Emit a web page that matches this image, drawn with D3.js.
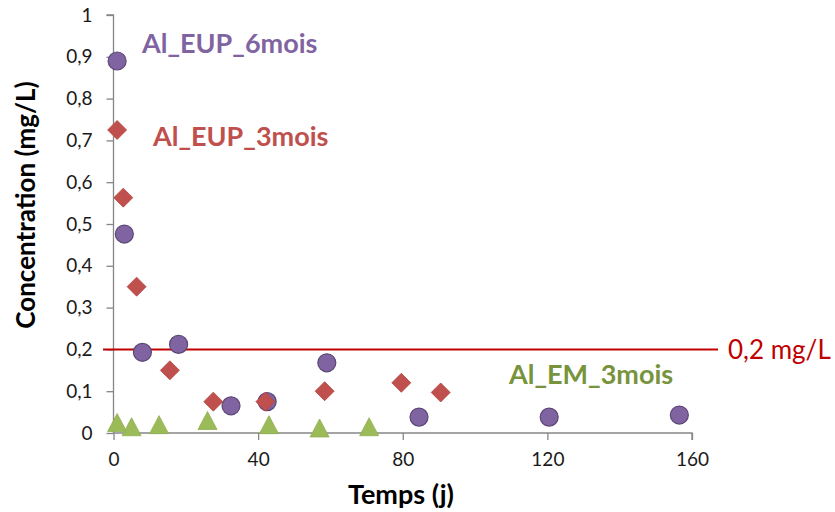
<!DOCTYPE html>
<html>
<head>
<meta charset="utf-8">
<script src="https://cdn.jsdelivr.net/npm/d3@7"></script>
<style>
  html, body { margin: 0; padding: 0; background: #fff; }
  svg { display: block; font-family: Lato, "Open Sans", sans-serif; }
</style>
</head>
<body>
<svg id="chart" width="835" height="512"></svg>
<script>
// ---- data ----
const eup6Days = [1, 3, 8, 18, 32.5, 42.5, 59, 84.5, 120.5, 156.5];
const eup6Conc = [0.89, 0.476, 0.193, 0.212, 0.065, 0.075, 0.168, 0.038, 0.038, 0.043];

const eup3Days = [1, 2.7, 6.4, 15.6, 27.6, 42, 58.4, 79.6, 90.5];
const eup3Conc = [0.725, 0.563, 0.35, 0.15, 0.075, 0.075, 0.1, 0.12, 0.097];

const em3Days = [1, 5, 12.6, 26, 43, 57, 70.7];
const em3Conc = [0.025, 0.015, 0.02, 0.03, 0.02, 0.012, 0.015];

const xTicks = [0, 40, 80, 120, 160];
const yTicks = [0, 0.1, 0.2, 0.3, 0.4, 0.5, 0.6, 0.7, 0.8, 0.9, 1];
const limitValue = 0.2;
const limitLabel = "0,2 mg/L";
const seriesLabels = ["Al_EUP_6mois", "Al_EUP_3mois", "Al_EM_3mois"];
const xTitle = "Temps (j)";
const yTitle = "Concentration (mg/L)";

// ---- layout ----
const svg = d3.select("#chart");
const x = d3.scaleLinear().domain([0, 160]).range([113.5, 692]);
const y = d3.scaleLinear().domain([0, 1]).range([433, 15]);
const axisColor = "#868686";
const fmt = d => d === 0 ? "0" : d === 1 ? "1" : d3.format(".1f")(d).replace(".", ",");

// y axis
const yAxis = svg.append("g")
  .attr("transform", `translate(${x(0)},0)`)
  .call(d3.axisLeft(y).tickValues(yTicks).tickFormat(fmt).tickSize(7).tickPadding(14));
// x axis
const xAxis = svg.append("g")
  .attr("transform", `translate(0,${y(0)})`)
  .call(d3.axisBottom(x).tickValues(xTicks).tickSize(7).tickPadding(13));

[yAxis, xAxis].forEach(g => {
  g.select(".domain").attr("stroke", axisColor).attr("stroke-width", 1.3);
  g.selectAll(".tick line").attr("stroke", axisColor).attr("stroke-width", 1.3);
  g.selectAll(".tick text").attr("fill", "#1a1a1a").style("font-size", "19px").style("font-family", "Lato, sans-serif");
});
yAxis.select(".domain").attr("d", `M-7,${y(1)}H0V${y(0)}`);
xAxis.select(".domain").attr("d", `M${x(0)},0H${x(160)}V7`);

// limit line
svg.append("line")
  .attr("x1", 103).attr("x2", 718)
  .attr("y1", y(limitValue)).attr("y2", y(limitValue))
  .attr("stroke", "#C00000").attr("stroke-width", 2);
svg.append("text")
  .attr("x", 728).attr("y", y(limitValue))
  .attr("dy", "0.35em")
  .attr("fill", "#C00000")
  .style("font-size", "26px")
  .text(limitLabel);

// series: purple circles
svg.append("g").selectAll("circle")
  .data(d3.zip(eup6Days, eup6Conc))
  .join("circle")
  .attr("cx", d => x(d[0])).attr("cy", d => y(d[1]))
  .attr("r", 9)
  .attr("fill", "#8064A2").attr("stroke", "#5C4776").attr("stroke-width", 1.2);

// red diamonds
svg.append("g").selectAll("path")
  .data(d3.zip(eup3Days, eup3Conc))
  .join("path")
  .attr("transform", d => `translate(${x(d[0])},${y(d[1])})`)
  .attr("d", "M0,-9.5L9.5,0L0,9.5L-9.5,0Z")
  .attr("fill", "#C0504D").attr("stroke", "#B4463F").attr("stroke-width", 0.8);

// green triangles
svg.append("g").selectAll("path")
  .data(d3.zip(em3Days, em3Conc))
  .join("path")
  .attr("transform", d => `translate(${x(d[0])},${y(d[1])})`)
  .attr("d", "M0,-9L9.5,9L-9.5,9Z")
  .attr("fill", "#9BBB59").attr("stroke", "#8FAF4F").attr("stroke-width", 0.8);

// series labels
const lbl = [
  {t: seriesLabels[0], x: 142, y: 53, c: "#8064A2"},
  {t: seriesLabels[1], x: 153, y: 146, c: "#C0504D"},
  {t: seriesLabels[2], x: 509, y: 384, c: "#77933C"}
];
svg.append("g").selectAll("text")
  .data(lbl)
  .join("text")
  .attr("x", d => d.x).attr("y", d => d.y)
  .attr("fill", d => d.c)
  .style("font-size", "27px").style("font-weight", "bold")
  .text(d => d.t);

// axis titles
svg.append("text")
  .attr("x", 401).attr("y", 504)
  .attr("text-anchor", "middle")
  .style("font-size", "27px").style("font-weight", "bold")
  .attr("fill", "#000")
  .text(xTitle);
svg.append("text")
  .attr("transform", "translate(35,205) rotate(-90)")
  .attr("text-anchor", "middle")
  .style("font-size", "26px").style("font-weight", "bold")
  .attr("fill", "#000")
  .text(yTitle);
</script>
</body>
</html>
